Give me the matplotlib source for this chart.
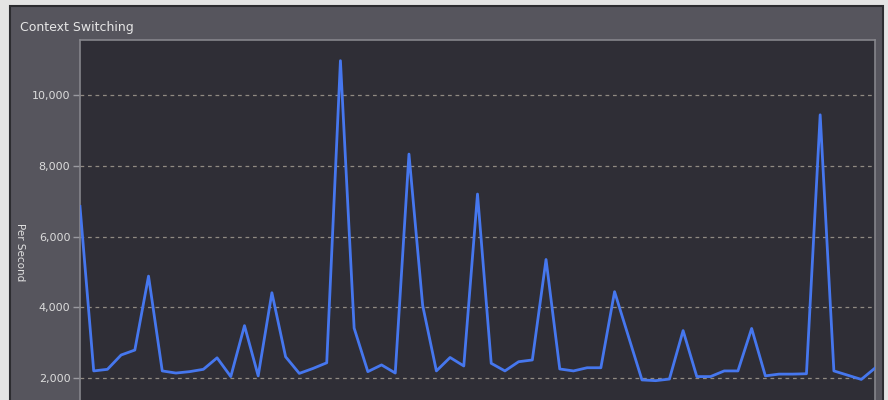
import matplotlib
matplotlib.use("Agg")
import matplotlib.pyplot as plt
from matplotlib.patches import Rectangle
from matplotlib.ticker import FuncFormatter

# ==========================================
# Data
# ==========================================

samples = list(range(59))

per_second = [
    6850, 2200, 2245, 2650, 2790, 4880, 2200, 2140, 2180, 2245,
    2570, 2040, 3480, 2060, 4410, 2600, 2130, 2270, 2430, 10970,
    3410, 2180, 2370, 2140, 8330, 4050, 2200, 2580, 2340, 7200,
    2415, 2200, 2460, 2510, 5350, 2255, 2200, 2290, 2290, 4440,
    3190, 1945, 1925, 1970, 3340, 2040, 2040, 2200, 2200, 3400,
    2060, 2110, 2110, 2120, 9440, 2200, 2080, 1960, 2280,
]

y_ticks = [2000, 4000, 6000, 8000, 10000]

title = "Context Switching"
y_label = "Per Second"

# ==========================================
# Figure
# ==========================================

fig = plt.figure(figsize=(8.88, 4.0), dpi=100)
fig.patch.set_facecolor("#e4e4e4")

# outer dark panel
panel = Rectangle(
    (10 / 888, -0.05), 873 / 888, 1.05 - 6 / 400,
    transform=fig.transFigure,
    facecolor="#56555d",
    edgecolor="#2c2c30",
    linewidth=1.5,
    zorder=-5
)
fig.patches.append(panel)

ax = fig.add_axes([80 / 888, 0.0, 795 / 888, 1 - 40 / 400])
ax.set_zorder(2)
ax.set_facecolor("#2f2e36")

ax.plot(samples, per_second, color="#4677ee", linewidth=2.0, zorder=3)

ax.set_xlim(0, 58)
ax.set_ylim(1378, 11555)

ax.set_yticks(y_ticks)
ax.yaxis.set_major_formatter(FuncFormatter(lambda v, p: f"{int(v):,}"))
ax.set_xticks([])

ax.grid(axis="y", color="#908a82", linestyle=(0, (3, 3)), linewidth=0.9)
ax.set_axisbelow(True)

ax.tick_params(
    axis="y",
    colors="#9a9aa0",
    labelcolor="#dcdcdc",
    labelsize=8,
    length=5,
    width=1,
    pad=2
)

for side in ["top", "right", "left"]:
    ax.spines[side].set_color("#85858b")
    ax.spines[side].set_linewidth(1.2)
ax.spines["bottom"].set_visible(False)

fig.text(20 / 888, 1 - 27 / 400, title, color="#e6e6e6",
         fontsize=9, ha="left", va="center", zorder=5)

fig.text(20 / 888, 1 - 252 / 400, y_label, color="#e0e0e0",
         fontsize=7.5, rotation=270, ha="center", va="center", zorder=5)

fig.savefig("out.png", dpi=100, facecolor=fig.get_facecolor())
